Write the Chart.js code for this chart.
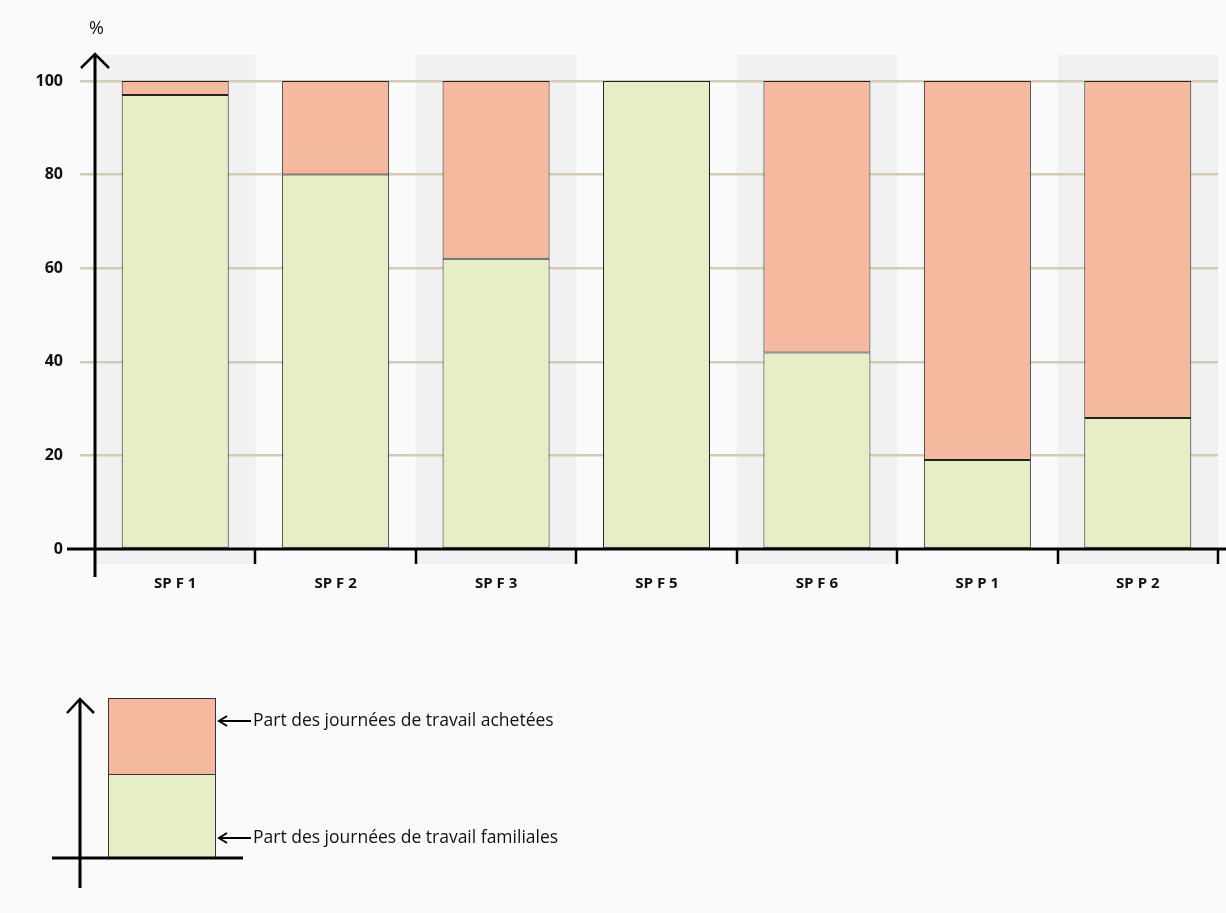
<!DOCTYPE html>
<html>
<head>
<meta charset="utf-8">
<script src="https://cdn.jsdelivr.net/npm/chart.js@4"></script>
<style>
  html, body { margin: 0; padding: 0; background: #fafafa; }
  #wrap { width: 1226px; height: 913px; }
</style>
</head>
<body>
<div id="wrap"><canvas id="chart"></canvas></div>
<script>
const categories = ["SP F 1", "SP F 2", "SP F 3", "SP F 5", "SP F 6", "SP P 1", "SP P 2"];
const familiales = [97, 80, 62, 100, 42, 19, 28]; // Part des journées de travail familiales
const achetees = [3, 20, 38, 0, 58, 81, 72];     // Part des journées de travail achetées
const yTicks = [0, 20, 40, 60, 80, 100];

const green = "#e5eec4";
const salmon = "#f4b99e";
const font = "'Open Sans', 'Noto Sans', sans-serif";

// bandes grises, axes fléchés et légende schématique
const decor = {
  id: "decor",
  beforeDraw(chart) {
    const { ctx, chartArea: a, scales: { x } } = chart;
    const w = (a.right - a.left) / categories.length;
    ctx.save();
    ctx.fillStyle = "#fafafa";
    ctx.fillRect(0, 0, chart.width, chart.height);
    ctx.fillStyle = "#f1f1f1";
    categories.forEach((c, i) => {
      if (i % 2 === 0) ctx.fillRect(x.getPixelForValue(i) - w / 2, a.top - 26, w, a.bottom - a.top + 41);
    });
    ctx.restore();
  },
  afterDraw(chart) {
    const { ctx, chartArea: a, scales: { x, y } } = chart;
    const y0 = y.getPixelForValue(0);
    const w = (a.right - a.left) / categories.length;
    ctx.save();
    ctx.strokeStyle = "#000";
    ctx.lineWidth = 3;
    ctx.lineCap = "butt";
    // axe horizontal
    ctx.beginPath();
    ctx.moveTo(a.left - 28, y0);
    ctx.lineTo(chart.width, y0);
    ctx.stroke();
    // graduations entre catégories
    ctx.lineWidth = 2.5;
    ctx.beginPath();
    categories.forEach((c, i) => {
      const bx = Math.round(x.getPixelForValue(i) + w / 2);
      ctx.moveTo(bx, y0);
      ctx.lineTo(bx, y0 + 15);
    });
    ctx.stroke();
    // axe vertical avec flèche
    ctx.lineWidth = 3;
    ctx.beginPath();
    ctx.moveTo(a.left, y0 + 28);
    ctx.lineTo(a.left, a.top - 27);
    ctx.stroke();
    ctx.lineWidth = 2.5;
    ctx.beginPath();
    ctx.moveTo(a.left - 14, a.top - 13);
    ctx.lineTo(a.left, a.top - 27);
    ctx.lineTo(a.left + 14, a.top - 13);
    ctx.stroke();
    ctx.fillStyle = "#111";
    ctx.font = "18px " + font;
    ctx.textAlign = "left";
    ctx.textBaseline = "middle";
    ctx.fillText("%", a.left - 6, a.top - 52);

    // légende schématique
    const lx = 108, lr = 215, lt = 698, lm = 774, lb = 858;
    ctx.lineWidth = 1;
    ctx.strokeStyle = "#333";
    ctx.fillStyle = salmon;
    ctx.fillRect(lx, lt, lr - lx, lm - lt);
    ctx.strokeRect(lx + 0.5, lt + 0.5, lr - lx, lm - lt);
    ctx.fillStyle = green;
    ctx.fillRect(lx, lm, lr - lx, lb - lm);
    ctx.strokeRect(lx + 0.5, lm + 0.5, lr - lx, lb - lm);
    ctx.strokeStyle = "#000";
    ctx.lineWidth = 3;
    ctx.beginPath();
    ctx.moveTo(52, lb); ctx.lineTo(243, lb);
    ctx.moveTo(80, 888); ctx.lineTo(80, 699);
    ctx.stroke();
    ctx.lineWidth = 2.5;
    ctx.beginPath();
    ctx.moveTo(67, 713); ctx.lineTo(80, 699); ctx.lineTo(94, 713);
    ctx.stroke();
    ctx.lineWidth = 2;
    const arrow = (yy) => {
      ctx.beginPath();
      ctx.moveTo(219, yy); ctx.lineTo(251, yy);
      ctx.moveTo(227, yy - 5); ctx.lineTo(219, yy); ctx.lineTo(227, yy + 5);
      ctx.stroke();
    };
    arrow(721); arrow(838);
    ctx.fillStyle = "#111";
    ctx.font = "17.5px " + font;
    ctx.fillText("Part des journées de travail achetées", 253, 721);
    ctx.fillText("Part des journées de travail familiales", 253, 838);
    ctx.restore();
  }
};

new Chart(document.getElementById("chart"), {
  type: "bar",
  data: {
    labels: categories,
    datasets: [
      {
        label: "Part des journées de travail familiales",
        data: familiales,
        backgroundColor: green,
        borderColor: "#222",
        borderWidth: 1,
        borderSkipped: false,
      },
      {
        label: "Part des journées de travail achetées",
        data: achetees,
        backgroundColor: salmon,
        borderColor: "#222",
        borderWidth: 1,
        borderSkipped: false,
      },
    ],
  },
  options: {
    responsive: true,
    maintainAspectRatio: false,
    animation: false,
    layout: { padding: { top: 81, right: 8, bottom: 314, left: 0 } },
    plugins: {
      legend: { display: false },
      tooltip: { enabled: false },
    },
    datasets: { bar: { categoryPercentage: 1, barPercentage: 0.667 } },
    scales: {
      x: {
        stacked: true,
        afterFit: (s) => { s.height = 50; },
        border: { display: false },
        grid: { display: false, drawTicks: false },
        ticks: {
          color: "#111",
          padding: 26,
          font: { family: font, size: 15, weight: "bold" },
        },
      },
      y: {
        stacked: true,
        min: 0,
        max: 100,
        afterFit: (s) => { s.width = 95; },
        afterBuildTicks: (s) => { s.ticks = yTicks.map((v) => ({ value: v })); },
        border: { display: false },
        grid: {
          color: (c) => (c.tick && c.tick.value === 0 ? "rgba(0,0,0,0)" : "#d3ccb4"),
          lineWidth: 2.5,
          tickLength: 15,
        },
        ticks: {
          color: "#111",
          padding: 17,
          font: { family: font, size: 16, weight: "bold" },
        },
      },
    },
  },
  plugins: [decor],
});
</script>
</body>
</html>
